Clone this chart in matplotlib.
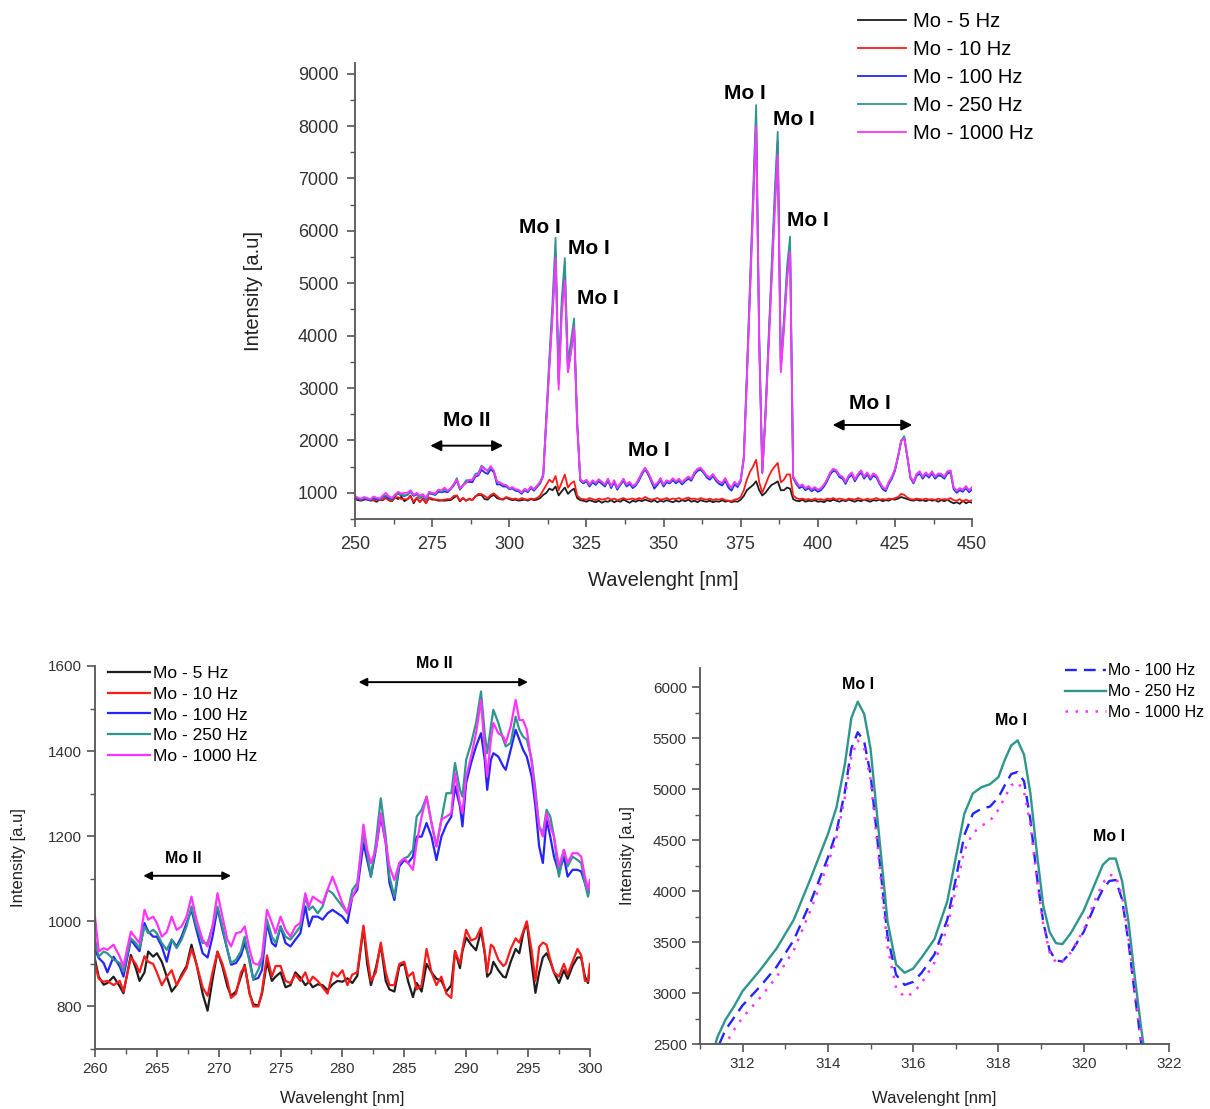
import numpy as np
import matplotlib
matplotlib.use("Agg")
import matplotlib.pyplot as plt
from matplotlib.ticker import MultipleLocator

plt.rcParams['font.family'] = ['Liberation Sans', 'DejaVu Sans']

# ---------------- data: full spectrum (1 nm steps) ----------------
top_wl = list(range(250, 451))

top_5hz = [
    880, 860, 850, 870, 880, 850, 860, 830, 870, 860,
    905, 855, 840, 915, 880, 925, 840, 880, 945, 800,
    900, 825, 890, 805, 900, 870, 870, 850, 852, 850,
    858, 860, 905, 945, 835, 900, 850, 880, 860, 930,
    960, 960, 880, 870, 930, 960, 900, 880, 870, 910,
    880, 860, 870, 850, 860, 870, 850, 880, 860, 870,
    900, 960, 1000, 1080, 1050, 1120, 950, 1030, 1100, 980,
    1040, 1080, 900, 860, 850, 830, 860, 840, 820, 850,
    810, 840, 830, 860, 820, 850, 830, 870, 840, 810,
    850, 830, 860, 840, 870, 850, 830, 860, 820, 850,
    830, 860, 840, 820, 850, 830, 860, 840, 870, 830,
    850, 820, 860, 840, 830, 850, 820, 840, 830, 860,
    830, 850, 820, 840, 830, 870, 940, 1050, 1100, 1150,
    1220, 1050, 950, 1000, 1080, 1150, 1180, 1220, 1050, 1050,
    1100, 1080, 880, 850, 840, 870, 830, 850, 840, 860,
    830, 840, 820, 860, 840, 870, 850, 830, 860, 840,
    870, 850, 830, 860, 840, 870, 850, 830, 860, 850,
    870, 840, 860, 850, 880, 870, 890, 920, 900, 880,
    860, 850, 870, 850, 860, 840, 870, 850, 860, 830,
    860, 840, 870, 830, 800, 820, 790, 850, 800, 830,
    810]

top_10hz = [
    870, 880, 860, 890, 870, 880, 850, 880, 860, 875,
    900, 860, 850, 915, 915, 880, 880, 875, 935, 830,
    910, 825, 890, 800, 910, 890, 870, 870, 860, 870,
    880, 880, 940, 950, 850, 905, 850, 890, 860, 930,
    980, 975, 940, 900, 960, 990, 940, 890, 880, 920,
    900, 880, 890, 870, 900, 880, 870, 890, 880, 900,
    950, 1050, 1150, 1250, 1200, 1320, 1050, 1200, 1350, 1100,
    1180, 1220, 950, 890, 880, 870, 900, 880, 860, 890,
    870, 880, 900, 870, 890, 860, 880, 900, 870, 880,
    890, 870, 900, 880, 920, 890, 870, 880, 900, 870,
    880, 900, 870, 890, 880, 900, 870, 890, 910, 880,
    890, 870, 900, 880, 870, 890, 860, 880, 870, 890,
    860, 850, 840, 870, 880, 920, 1050, 1250, 1400, 1500,
    1630, 1200, 1000, 1150, 1300, 1420, 1500, 1570, 1200, 1250,
    1350, 1350, 950, 900, 880, 890, 870, 880, 860, 890,
    870, 880, 860, 890, 880, 900, 870, 890, 880, 860,
    890, 880, 870, 900, 880, 860, 890, 870, 880, 900,
    870, 880, 870, 890, 880, 900, 920, 980, 960, 910,
    880, 870, 890, 880, 870, 890, 870, 880, 860, 890,
    870, 880, 870, 900, 860, 850, 880, 830, 870, 840,
    860]

top_100hz = [
    910, 880, 870, 890, 870, 860, 900, 880, 870, 920,
    933, 890, 880, 945, 985, 950, 940, 960, 1020, 940,
    975, 900, 940, 870, 990, 975, 960, 1020, 1010, 1025,
    1010, 1070, 1140, 1240, 1060, 1140, 1200, 1210, 1200, 1310,
    1330, 1440, 1390, 1360, 1450, 1390, 1160, 1160, 1120, 1120,
    1070, 1080, 1040, 1030, 980, 1050, 1010, 1090, 1040, 1110,
    1180, 1320, 2400, 3450, 4450, 5560, 3080, 4550, 5170, 3310,
    3700, 4120, 2300, 1230, 1180, 1220, 1120, 1200, 1150, 1220,
    1170, 1120, 1230, 1090, 1200, 1060, 1150, 1230, 1120, 1170,
    1090, 1140, 1230, 1350, 1450, 1350, 1220, 1080, 1150, 1240,
    1120, 1200, 1180, 1240, 1180, 1230, 1160, 1220, 1270, 1230,
    1350, 1420, 1440, 1380, 1290, 1250, 1320, 1230, 1170, 1140,
    1230, 1100, 1040, 1160, 1110, 1220, 1650, 3200, 4850, 6500,
    8150, 3900, 1380, 2450, 3800, 5150, 6500, 7700, 3350, 4200,
    5150, 5700, 1280, 1170, 1090, 1120, 1050, 1090, 1030, 1070,
    1020, 1050, 1120, 1220, 1350, 1420, 1400, 1300, 1270, 1170,
    1290, 1350, 1220, 1320, 1390, 1270, 1350, 1250, 1330, 1290,
    1170, 1070, 1030, 1170, 1270, 1420, 1680, 1980, 2060, 1680,
    1280, 1180, 1320, 1370, 1270, 1350, 1290, 1370, 1270, 1330,
    1320, 1270, 1370, 1390, 1070, 1000, 1050, 1020, 1090, 1010,
    1070]

top_250hz = [
    930, 900, 880, 910, 890, 870, 920, 900, 880, 940,
    950, 920, 890, 955, 990, 965, 955, 960, 1030, 960,
    985, 905, 950, 880, 1000, 985, 975, 1050, 1020, 1065,
    1035, 1085, 1160, 1280, 1070, 1148, 1240, 1240, 1250, 1360,
    1380, 1520, 1470, 1410, 1480, 1420, 1210, 1200, 1150, 1140,
    1080, 1100, 1060, 1050, 1000, 1070, 1030, 1110, 1060, 1130,
    1200, 1350, 2500, 3600, 4650, 5870, 3200, 4700, 5480, 3490,
    3900, 4330, 2400, 1250, 1200, 1240, 1150, 1230, 1180, 1250,
    1200, 1150, 1260, 1120, 1230, 1090, 1170, 1260, 1150, 1200,
    1120, 1160, 1260, 1380, 1470, 1380, 1250, 1130, 1180, 1270,
    1150, 1230, 1200, 1270, 1210, 1260, 1190, 1250, 1300, 1260,
    1380, 1450, 1470, 1400, 1320, 1280, 1350, 1260, 1200, 1180,
    1270, 1150, 1090, 1200, 1140, 1250, 1700, 3300, 5000, 6700,
    8400, 4000, 1400, 2500, 3900, 5300, 6700, 7890, 3500, 4300,
    5300, 5890, 1300, 1200, 1120, 1150, 1080, 1120, 1060, 1100,
    1050, 1080, 1150, 1250, 1380, 1450, 1420, 1330, 1300, 1200,
    1320, 1380, 1250, 1350, 1420, 1300, 1380, 1280, 1360, 1320,
    1200, 1100, 1060, 1200, 1300, 1450, 1700, 2000, 2080, 1700,
    1300, 1200, 1350, 1400, 1300, 1380, 1320, 1400, 1300, 1360,
    1350, 1300, 1400, 1420, 1100, 1030, 1080, 1050, 1120, 1040,
    1100]

top_1000hz = [
    940, 905, 890, 920, 900, 880, 930, 905, 890, 950,
    1000, 933, 905, 970, 1020, 985, 1000, 1000, 1050, 960,
    1000, 950, 975, 900, 1020, 1000, 990, 1060, 1045, 1100,
    1040, 1080, 1170, 1250, 1090, 1148, 1190, 1250, 1240, 1330,
    1350, 1500, 1450, 1430, 1510, 1420, 1220, 1190, 1160, 1150,
    1090, 1110, 1070, 1060, 1010, 1080, 1040, 1120, 1070, 1140,
    1210, 1340, 2350, 3400, 4350, 5480, 2970, 4400, 5060, 3300,
    3700, 4160, 2300, 1260, 1210, 1250, 1160, 1240, 1190, 1260,
    1210, 1160, 1270, 1130, 1240, 1100, 1180, 1270, 1160, 1210,
    1130, 1170, 1270, 1390, 1480, 1390, 1260, 1140, 1190, 1280,
    1160, 1240, 1210, 1280, 1220, 1270, 1200, 1260, 1310, 1270,
    1390, 1460, 1480, 1410, 1330, 1290, 1360, 1270, 1210, 1190,
    1280, 1160, 1100, 1210, 1150, 1260, 1650, 3150, 4750, 6350,
    8000, 3850, 1400, 2400, 3700, 5000, 6300, 7450, 3300, 4100,
    5050, 5600, 1310, 1210, 1130, 1160, 1090, 1130, 1070, 1110,
    1060, 1090, 1160, 1260, 1390, 1460, 1430, 1340, 1310, 1210,
    1330, 1390, 1260, 1360, 1430, 1310, 1390, 1290, 1370, 1330,
    1210, 1110, 1070, 1210, 1310, 1460, 1700, 1990, 2040, 1700,
    1310, 1210, 1360, 1410, 1310, 1390, 1330, 1410, 1310, 1370,
    1360, 1310, 1410, 1430, 1110, 1040, 1090, 1060, 1130, 1050,
    1110]

# ---------------- data: zoom 260-300 nm ----------------
bl_wl = [
    260.0, 260.3, 260.7, 261.0, 261.5, 262.0, 262.3, 262.9, 263.3, 263.6,
    264.0, 264.3, 264.7, 265.0, 265.4, 265.8, 266.2, 266.6, 267.0, 267.4,
    267.8, 268.2, 268.7, 269.1, 269.5, 269.9, 270.3, 270.7, 271.0, 271.4,
    271.8, 272.1, 272.5, 272.8, 273.2, 273.5, 273.9, 274.3, 274.6, 275.0,
    275.4, 275.8, 276.2, 276.6, 277.0, 277.3, 277.6, 278.0, 278.4, 278.8,
    279.2, 279.6, 280.0, 280.4, 280.8, 281.2, 281.7, 282.0, 282.3, 282.7,
    283.1, 283.5, 283.8, 284.2, 284.6, 285.0, 285.3, 285.7, 286.0, 286.4,
    286.8, 287.2, 287.6, 288.0, 288.4, 288.8, 289.1, 289.5, 289.7, 290.0,
    290.4, 290.8, 291.2, 291.5, 291.7, 292.0, 292.2, 292.6, 293.0, 293.2,
    293.6, 294.0, 294.3, 294.6, 294.9, 295.3, 295.6, 295.9, 296.2, 296.5,
    296.8, 297.1, 297.5, 297.9, 298.2, 298.6, 299.0, 299.3, 299.6, 299.85, 300.0]

bl_5hz = [
    910, 870, 851, 855, 870, 847, 831, 921, 890, 860,
    880, 929, 917, 925, 905, 870, 835, 850, 875, 895,
    945, 900, 830, 790, 863, 929, 894, 847, 825, 835,
    870, 898, 830, 805, 802, 830, 905, 860, 870, 880,
    845, 850, 880, 868, 850, 858, 845, 852, 850, 838,
    852, 860, 858, 866, 855, 872, 985, 900, 850, 890,
    945, 860, 840, 835, 895, 900, 860, 822, 855, 835,
    900, 880, 865, 860, 835, 850, 930, 890, 930, 962,
    945, 932, 978, 925, 870, 880, 905, 885, 870, 868,
    905, 935, 925, 970, 998, 900, 832, 880, 915, 925,
    905, 880, 855, 885, 865, 895, 915, 915, 870, 855, 890]

bl_10hz = [
    900, 865, 858, 860, 850, 860, 835, 915, 900, 880,
    918, 905, 900, 880, 850, 870, 885, 850, 870, 890,
    935, 900, 845, 825, 880, 928, 900, 860, 820, 830,
    880, 895, 830, 800, 800, 835, 920, 870, 895, 895,
    860, 855, 875, 860, 880, 855, 870, 860, 845, 830,
    880, 870, 885, 850, 875, 880, 990, 920, 860, 880,
    950, 880, 850, 850, 900, 905, 870, 880, 840, 850,
    935, 880, 850, 870, 830, 820, 930, 900, 935, 980,
    955, 960, 985, 930, 880, 945, 940, 910, 895, 900,
    935, 960, 950, 975, 1000, 930, 860, 940, 950, 945,
    910, 880, 870, 900, 875, 905, 935, 920, 860, 860, 900]

bl_100hz = [
    933, 914, 902, 880, 917, 894, 870, 957, 941, 930,
    996, 976, 964, 964, 941, 905, 957, 941, 964, 996,
    1027, 980, 925, 915, 964, 1031, 980, 933, 898, 902,
    920, 949, 910, 863, 867, 886, 996, 949, 941, 988,
    949, 941, 957, 972, 1035, 988, 1011, 1011, 1004, 1019,
    1027, 1019, 1011, 996, 1058, 1074, 1184, 1144, 1105, 1168,
    1246, 1184, 1090, 1050, 1129, 1144, 1137, 1152, 1199, 1199,
    1231, 1199, 1144, 1199, 1227, 1246, 1317, 1270, 1223, 1325,
    1372, 1411, 1442, 1380, 1309, 1380, 1395, 1387, 1364, 1356,
    1403, 1450, 1427, 1403, 1387, 1340, 1270, 1176, 1137, 1238,
    1199, 1152, 1113, 1152, 1105, 1121, 1121, 1117, 1090, 1066, 1074]

bl_250hz = [
    957, 917, 929, 925, 910, 902, 882, 960, 949, 937,
    988, 972, 980, 972, 949, 933, 957, 937, 957, 988,
    1035, 988, 949, 949, 988, 1035, 988, 933, 902, 910,
    930, 964, 902, 863, 886, 910, 1004, 964, 949, 988,
    964, 957, 972, 988, 1058, 1027, 1035, 1019, 1035, 1074,
    1066, 1050, 1035, 1019, 1074, 1090, 1207, 1160, 1105, 1184,
    1289, 1199, 1105, 1058, 1137, 1148, 1152, 1168, 1246, 1262,
    1293, 1231, 1176, 1239, 1301, 1301, 1372, 1309, 1293, 1379,
    1418, 1466, 1540, 1442, 1395, 1458, 1497, 1466, 1427, 1411,
    1419, 1481, 1450, 1434, 1427, 1380, 1309, 1223, 1207, 1262,
    1246, 1199, 1105, 1168, 1129, 1152, 1144, 1137, 1090, 1058, 1082]

bl_1000hz = [
    1011, 929, 937, 933, 945, 917, 894, 976, 960, 949,
    1027, 1004, 1011, 996, 964, 975, 1011, 980, 988, 1011,
    1058, 1004, 957, 941, 988, 1066, 1011, 957, 941, 972,
    975, 988, 933, 902, 898, 917, 1027, 996, 972, 1011,
    980, 964, 988, 996, 1066, 1035, 1058, 1050, 1042, 1074,
    1105, 1074, 1042, 1019, 1058, 1082, 1227, 1168, 1137, 1168,
    1254, 1184, 1129, 1097, 1137, 1148, 1137, 1121, 1184, 1246,
    1293, 1231, 1176, 1239, 1246, 1254, 1348, 1277, 1254, 1340,
    1387, 1442, 1520, 1403, 1340, 1427, 1466, 1442, 1434, 1419,
    1458, 1520, 1473, 1473, 1450, 1372, 1293, 1223, 1199, 1254,
    1223, 1199, 1129, 1168, 1137, 1160, 1160, 1152, 1105, 1074, 1097]

# ---------------- data: zoom 311-322 nm ----------------
br_wl = [
    311.2, 311.4, 311.6, 311.8, 312.0, 312.4, 312.8, 313.2, 313.6, 314.0,
    314.2, 314.4, 314.55, 314.7, 314.85, 315.0, 315.2, 315.4, 315.6, 315.8,
    316.0, 316.2, 316.5, 316.8, 317.0, 317.2, 317.4, 317.6, 317.8, 318.0,
    318.15, 318.3, 318.45, 318.6, 318.75, 318.9, 319.05, 319.2, 319.35, 319.5,
    319.7, 320.0, 320.25, 320.45, 320.6, 320.75, 320.9, 321.05, 321.2, 321.35, 321.5]

br_100hz = [
    2150, 2450, 2640, 2760, 2880, 3060, 3260, 3520, 3900, 4330,
    4580, 4980, 5400, 5560, 5470, 5150, 4350, 3550, 3180, 3080,
    3110, 3200, 3380, 3720, 4120, 4550, 4760, 4810, 4830, 4920,
    5040, 5150, 5170, 5080, 4700, 4150, 3700, 3420, 3320, 3310,
    3400, 3600, 3850, 4020, 4100, 4110, 3920, 3500, 2980, 2500, 2100]

br_250hz = [
    2200, 2560, 2740, 2870, 3020, 3220, 3440, 3720, 4130, 4560,
    4820, 5250, 5700, 5860, 5740, 5400, 4550, 3700, 3280, 3200,
    3240, 3350, 3530, 3900, 4330, 4760, 4960, 5020, 5050, 5120,
    5290, 5430, 5480, 5340, 4960, 4380, 3860, 3600, 3490, 3480,
    3590, 3810, 4060, 4260, 4320, 4320, 4100, 3700, 3150, 2650, 2200]

br_1000hz = [
    2000, 2300, 2500, 2640, 2760, 2950, 3160, 3420, 3820, 4270,
    4520, 4920, 5320, 5480, 5400, 5100, 4300, 3450, 3050, 2960,
    3000, 3100, 3300, 3640, 4020, 4400, 4570, 4640, 4690, 4800,
    4920, 5040, 5070, 4980, 4650, 4120, 3680, 3400, 3300, 3310,
    3400, 3620, 3900, 4080, 4160, 4150, 3950, 3550, 3020, 2560, 2150]

labels = ["Mo - 5 Hz", "Mo - 10 Hz", "Mo - 100 Hz", "Mo - 250 Hz", "Mo - 1000 Hz"]
colors = ["#1e1e1e", "#ff1a1a", "#2424ff", "#2e968c", "#ff33ff"]
axis_grey = "#555555"


def style_axes(ax, tick_size, pad=3.5):
    for side in ("top", "right"):
        ax.spines[side].set_visible(False)
    for side in ("left", "bottom"):
        ax.spines[side].set_color(axis_grey)
        ax.spines[side].set_linewidth(1.3)
    ax.tick_params(which="major", direction="out", length=6, width=1.2, pad=pad,
                   color=axis_grey, labelsize=tick_size, labelcolor="#333333")
    ax.tick_params(which="minor", direction="out", length=3.5, width=1.0,
                   color=axis_grey)


def arrow(ax, x0, x1, y, scale):
    ax.annotate("", xy=(x1, y), xytext=(x0, y),
                arrowprops=dict(arrowstyle="<|-|>", color="black", lw=1.4,
                                mutation_scale=scale, shrinkA=0, shrinkB=0),
                annotation_clip=False)


fig = plt.figure(figsize=(12.1, 11.09), dpi=100)

# ---------- top: full spectrum ----------
ax1 = fig.add_axes([0.2934, 0.532, 0.510, 0.411])
series_top = [top_5hz, top_10hz, top_100hz, top_250hz, top_1000hz]
handles = []
for s, c, lab in zip(series_top, colors, labels):
    h, = ax1.plot(top_wl, s, color=c, lw=1.3, label=lab)
    handles.append(h)
ax1.set_xlim(250, 450)
ax1.set_ylim(500, 9200)
ax1.xaxis.set_major_locator(MultipleLocator(25))
ax1.xaxis.set_minor_locator(MultipleLocator(12.5))
ax1.set_yticks(range(1000, 9001, 1000))
ax1.yaxis.set_minor_locator(MultipleLocator(500))
style_axes(ax1, 13, pad=6)
ax1.set_xlabel("Wavelenght [nm]", fontsize=14.5, color="#222222", labelpad=13)
ax1.set_ylabel("Intensity [a.u]", fontsize=14.5, color="#222222", labelpad=25)

top_notes = [("Mo I", 310, 6070), ("Mo I", 325.9, 5670), ("Mo I", 328.8, 4710),
             ("Mo I", 376.5, 8630), ("Mo I", 392.2, 8120), ("Mo I", 396.8, 6200),
             ("Mo I", 345.1, 1810), ("Mo II", 286.3, 2380), ("Mo I", 417, 2700)]
for t, x, y in top_notes:
    ax1.text(x, y, t, fontsize=15, fontweight="bold", ha="center", va="center")
arrow(ax1, 274.4, 298, 1900, 16)
arrow(ax1, 404.8, 430.6, 2295, 16)

fig.legend(handles, labels, loc="upper left", bbox_to_anchor=(0.709, 0.989),
           frameon=False, fontsize=14.5, handlelength=2.4, handletextpad=0.35,
           labelspacing=0.44, borderpad=0, borderaxespad=0)

# ---------- bottom left: 260-300 nm ----------
ax2 = fig.add_axes([0.0785, 0.0541, 0.409, 0.3454])
series_bl = [bl_5hz, bl_10hz, bl_100hz, bl_250hz, bl_1000hz]
for s, c, lab in zip(series_bl, colors, labels):
    ax2.plot(bl_wl, s, color=c, lw=1.6, label=lab)
ax2.set_xlim(260, 300)
ax2.set_ylim(700, 1600)
ax2.xaxis.set_major_locator(MultipleLocator(5))
ax2.xaxis.set_minor_locator(MultipleLocator(2.5))
ax2.set_yticks(range(800, 1601, 200))
ax2.yaxis.set_minor_locator(MultipleLocator(100))
style_axes(ax2, 11)
ax2.set_xlabel("Wavelenght [nm]", fontsize=12, color="#222222", labelpad=11)
ax2.set_ylabel("Intensity [a.u]", fontsize=12, color="#222222", labelpad=16)
ax2.text(287.4, 1606, "Mo II", fontsize=11.5, fontweight="bold",
         ha="center", va="center", clip_on=False)
ax2.text(267.1, 1148, "Mo II", fontsize=11.5, fontweight="bold",
         ha="center", va="center")
arrow(ax2, 281.3, 295.0, 1562, 12)
arrow(ax2, 263.9, 271.0, 1107, 12)
ax2.legend(loc="upper left", bbox_to_anchor=(0.0893, 0.3995),
           bbox_transform=fig.transFigure, frameon=False, fontsize=12.5,
           handlelength=2.4, handletextpad=0.2, labelspacing=0.32,
           borderpad=0, borderaxespad=0)

# ---------- bottom right: 311-322 nm ----------
ax3 = fig.add_axes([0.5785, 0.0586, 0.3876, 0.339])
ax3.plot(br_wl, br_100hz, color="#2424ff", lw=1.7, ls=(0, (5, 3)), label="Mo - 100 Hz")
ax3.plot(br_wl, br_250hz, color="#2e968c", lw=1.7, ls="-", label="Mo - 250 Hz")
ax3.plot(br_wl, br_1000hz, color="#ff33ff", lw=1.8, ls=(0, (1, 3)), label="Mo - 1000 Hz")
ax3.set_xlim(311, 322)
ax3.set_ylim(2500, 6190)
ax3.xaxis.set_major_locator(MultipleLocator(2))
ax3.xaxis.set_minor_locator(MultipleLocator(1))
ax3.set_yticks(range(2500, 6001, 500))
ax3.yaxis.set_minor_locator(MultipleLocator(250))
style_axes(ax3, 11)
ax3.set_xlabel("Wavelenght [nm]", fontsize=12, color="#222222", labelpad=14)
ax3.set_ylabel("Intensity [a.u]", fontsize=12, color="#222222", labelpad=13)
for x, y in [(314.7, 6033), (318.3, 5680), (320.6, 4540)]:
    ax3.text(x, y, "Mo I", fontsize=11.5, fontweight="bold", ha="center", va="center")
ax3.legend(loc="upper left", bbox_to_anchor=(0.880, 0.402),
           bbox_transform=fig.transFigure, frameon=False, fontsize=11.5,
           handlelength=2.6, handletextpad=0.1, labelspacing=0.37,
           borderpad=0, borderaxespad=0)

fig.savefig("out.png", dpi=100)
